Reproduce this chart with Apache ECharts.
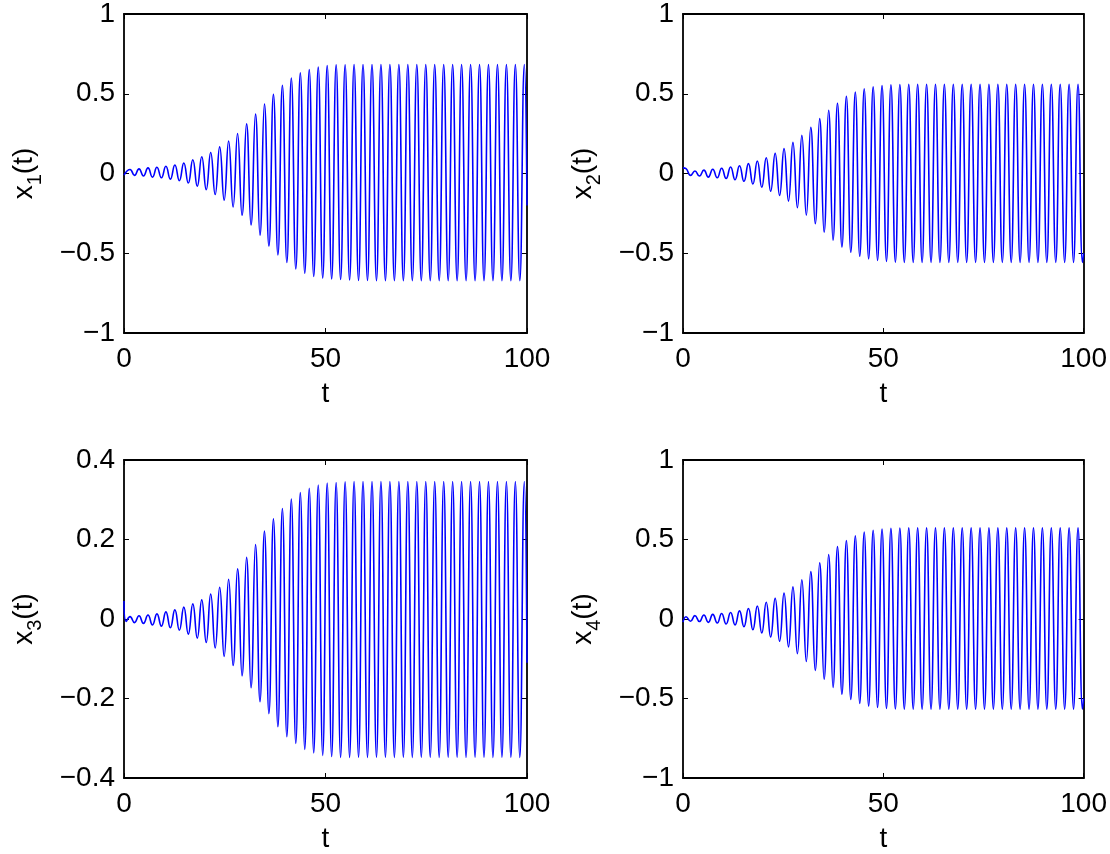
<!DOCTYPE html>
<html><head><meta charset="utf-8">
<script src="https://cdn.jsdelivr.net/npm/echarts@6/dist/echarts.min.js"></script>
<style>html,body{margin:0;padding:0;background:#fff}#c{width:1110px;height:854px}</style>
</head><body><div id="c"></div>
<script>
// Times of local maxima / minima, group A: x1, x3 ; group B: x2, x4
const tPeaksA = [1.50,3.72,5.95,8.17,10.39,12.62,14.84,17.07,19.29,21.51,23.74,25.96,28.18,30.41,32.63,34.85,37.08,39.30,41.52,43.75,45.97,48.20,50.42,52.64,54.87,57.09,59.31,61.54,63.76,65.98,68.21,70.43,72.66,74.88,77.10,79.33,81.55,83.77,86.00,88.22,90.44,92.67,94.89,97.11,99.34];
const tTroughsA = [2.61,4.83,7.06,9.28,11.50,13.73,15.95,18.18,20.40,22.62,24.85,27.07,29.29,31.52,33.74,35.96,38.19,40.41,42.63,44.86,47.08,49.31,51.53,53.75,55.98,58.20,60.42,62.65,64.87,67.09,69.32,71.54,73.77,75.99,78.21,80.44,82.66,84.88,87.11,89.33,91.55,93.78,96.00,98.22];
const tPeaksB = [0.76,2.98,5.21,7.43,9.65,11.88,14.10,16.33,18.55,20.77,23.00,25.22,27.44,29.67,31.89,34.11,36.34,38.56,40.78,43.01,45.23,47.46,49.68,51.90,54.13,56.35,58.57,60.80,63.02,65.24,67.47,69.69,71.92,74.14,76.36,78.59,80.81,83.03,85.26,87.48,89.70,91.93,94.15,96.37,98.60];
const tTroughsB = [1.87,4.09,6.32,8.54,10.76,12.99,15.21,17.44,19.66,21.88,24.11,26.33,28.55,30.78,33.00,35.22,37.45,39.67,41.89,44.12,46.34,48.57,50.79,53.01,55.24,57.46,59.68,61.91,64.13,66.35,68.58,70.80,73.03,75.25,77.47,79.70,81.92,84.14,86.37,88.59,90.81,93.04,95.26,97.48,99.71];

// x1(t)
const x1Peaks = [0.025,0.029,0.035,0.039,0.045,0.053,0.066,0.086,0.105,0.132,0.167,0.204,0.251,0.311,0.372,0.436,0.496,0.553,0.599,0.632,0.652,0.667,0.677,0.681,0.682,0.683,0.683,0.683,0.683,0.683,0.683,0.683,0.683,0.683,0.683,0.683,0.683,0.683,0.683,0.683,0.683,0.683,0.683,0.683,0.683];
const x1Troughs = [-0.012,-0.016,-0.023,-0.027,-0.035,-0.045,-0.060,-0.080,-0.101,-0.132,-0.167,-0.210,-0.262,-0.323,-0.387,-0.455,-0.510,-0.558,-0.599,-0.626,-0.646,-0.656,-0.661,-0.665,-0.668,-0.670,-0.671,-0.672,-0.672,-0.672,-0.672,-0.672,-0.672,-0.672,-0.672,-0.672,-0.672,-0.672,-0.672,-0.672,-0.672,-0.672,-0.672,-0.672];
const x1Ends = [[0, -0.01], [100, -0.2]];

// x2(t)
const x2Peaks = [0.030,0.016,0.021,0.027,0.033,0.041,0.049,0.062,0.078,0.099,0.126,0.156,0.195,0.239,0.290,0.344,0.397,0.440,0.484,0.510,0.531,0.543,0.551,0.556,0.558,0.560,0.560,0.560,0.560,0.560,0.560,0.560,0.560,0.560,0.560,0.560,0.560,0.560,0.560,0.560,0.560,0.560,0.560,0.560,0.560];
const x2Troughs = [-0.012,-0.016,-0.023,-0.027,-0.031,-0.039,-0.049,-0.066,-0.086,-0.111,-0.138,-0.173,-0.214,-0.261,-0.315,-0.368,-0.418,-0.461,-0.494,-0.519,-0.535,-0.545,-0.551,-0.556,-0.557,-0.557,-0.557,-0.557,-0.557,-0.557,-0.557,-0.557,-0.557,-0.557,-0.557,-0.557,-0.557,-0.557,-0.557,-0.557,-0.557,-0.557,-0.557,-0.557,-0.557];
const x2Ends = [[0, 0.035], [100, -0.5]];

// x3(t)
const x3Peaks = [0.006,0.008,0.010,0.013,0.018,0.023,0.030,0.038,0.048,0.063,0.080,0.100,0.126,0.155,0.187,0.221,0.252,0.278,0.302,0.318,0.329,0.337,0.342,0.343,0.345,0.346,0.346,0.346,0.346,0.346,0.346,0.346,0.346,0.346,0.346,0.346,0.346,0.346,0.346,0.346,0.346,0.346,0.346,0.346,0.346];
const x3Troughs = [-0.009,-0.011,-0.015,-0.018,-0.022,-0.028,-0.038,-0.048,-0.059,-0.073,-0.094,-0.117,-0.143,-0.173,-0.208,-0.238,-0.271,-0.296,-0.313,-0.328,-0.337,-0.343,-0.346,-0.348,-0.348,-0.348,-0.348,-0.348,-0.348,-0.348,-0.348,-0.348,-0.348,-0.348,-0.348,-0.348,-0.348,-0.348,-0.348,-0.348,-0.348,-0.348,-0.348,-0.348];
const x3Ends = [[0, 0.045], [0.55, -0.006], [100, -0.11]];

// x4(t)
const x4Peaks = [0.014,0.021,0.025,0.029,0.035,0.041,0.051,0.066,0.082,0.105,0.130,0.163,0.202,0.247,0.298,0.354,0.405,0.455,0.494,0.523,0.547,0.558,0.566,0.570,0.572,0.573,0.573,0.573,0.573,0.573,0.573,0.573,0.573,0.573,0.573,0.573,0.573,0.573,0.573,0.573,0.573,0.573,0.573,0.573,0.573];
const x4Troughs = [-0.014,-0.016,-0.021,-0.025,-0.031,-0.037,-0.049,-0.068,-0.088,-0.113,-0.140,-0.175,-0.218,-0.267,-0.323,-0.379,-0.430,-0.473,-0.506,-0.531,-0.547,-0.556,-0.562,-0.566,-0.567,-0.567,-0.567,-0.567,-0.567,-0.567,-0.567,-0.567,-0.567,-0.567,-0.567,-0.567,-0.567,-0.567,-0.567,-0.567,-0.567,-0.567,-0.567,-0.567,-0.567];
const x4Ends = [[0, -0.02], [100, -0.5]];

const xTicks = [0, 50, 100];
const yRangeA = [-1, 1, 0.5];
const yRangeC = [-0.4, 0.4, 0.2];

function build(tp, vp, tt, vt, ends) {
  const pts = ends.slice();
  tp.forEach((t, i) => pts.push([t, vp[i]]));
  tt.forEach((t, i) => pts.push([t, vt[i]]));
  pts.sort((a, b) => a[0] - b[0]);
  return pts;
}

const panels = [
  {sub: '1', data: build(tPeaksA, x1Peaks, tTroughsA, x1Troughs, x1Ends), yr: yRangeA, left: 124, top: 10, h: 323},
  {sub: '2', data: build(tPeaksB, x2Peaks, tTroughsB, x2Troughs, x2Ends), yr: yRangeA, left: 683, top: 10, h: 323},
  {sub: '3', data: build(tPeaksA, x3Peaks, tTroughsA, x3Troughs, x3Ends), yr: yRangeC, left: 124, top: 460, h: 319},
  {sub: '4', data: build(tPeaksB, x4Peaks, tTroughsB, x4Troughs, x4Ends), yr: yRangeA, left: 683, top: 460, h: 319}
];

const FONT = 'Liberation Sans';
const FS = 28;
const lineStyle = {color: '#000', width: 1.8};
const tickStyle = {show: true, inside: true, length: 5, lineStyle: {color: '#000', width: 1}};
const fmt = v => String(Math.round(v * 1000) / 1000).replace('-', '\u2212');

const grid = [], xAxis = [], yAxis = [], series = [];
panels.forEach((p, i) => {
  grid.push({left: p.left, top: p.top, width: 403, height: p.h});
  const xb = {type: 'value', gridIndex: i, min: xTicks[0], max: xTicks[2], interval: xTicks[1] - xTicks[0],
    splitLine: {show: false}, axisLine: {show: true, onZero: false, lineStyle}, axisTick: tickStyle};
  xAxis.push(Object.assign({}, xb, {position: 'bottom',
    axisLabel: {fontFamily: FONT, fontSize: FS, color: '#000', margin: 12},
    name: 't', nameLocation: 'middle', nameGap: 47,
    nameTextStyle: {fontFamily: FONT, fontSize: FS, color: '#000'}}));
  xAxis.push(Object.assign({}, xb, {position: 'top', axisLabel: {show: false}}));
  const yb = {type: 'value', gridIndex: i, min: p.yr[0], max: p.yr[1], interval: p.yr[2],
    splitLine: {show: false}, axisLine: {show: true, onZero: false, lineStyle}, axisTick: tickStyle};
  yAxis.push(Object.assign({}, yb, {position: 'left',
    axisLabel: {fontFamily: FONT, fontSize: FS, color: '#000', margin: 9, formatter: fmt},
    name: '{a|x}{s|' + p.sub + '}{a|(t)}', nameLocation: 'middle', nameGap: 86, nameRotate: 90,
    nameTextStyle: {fontFamily: FONT, fontSize: FS, color: '#000',
      rich: {
        a: {fontFamily: FONT, fontSize: FS, color: '#000', lineHeight: 28, verticalAlign: 'top'},
        s: {fontFamily: FONT, fontSize: 20, color: '#000', lineHeight: 20, padding: [15, 0, 0, 0], verticalAlign: 'top'}
      }}}));
  yAxis.push(Object.assign({}, yb, {position: 'right', axisLabel: {show: false}}));
  series.push({type: 'line', xAxisIndex: 2 * i, yAxisIndex: 2 * i, data: p.data,
    showSymbol: false, symbol: 'none', smooth: 0.5, animation: false,
    lineStyle: {color: '#0000ff', width: 1.6}});
});

const chart = echarts.init(document.getElementById('c'), null, {renderer: 'canvas'});
chart.setOption({animation: false, backgroundColor: '#fff', grid, xAxis, yAxis, series});
</script>
</body></html>
